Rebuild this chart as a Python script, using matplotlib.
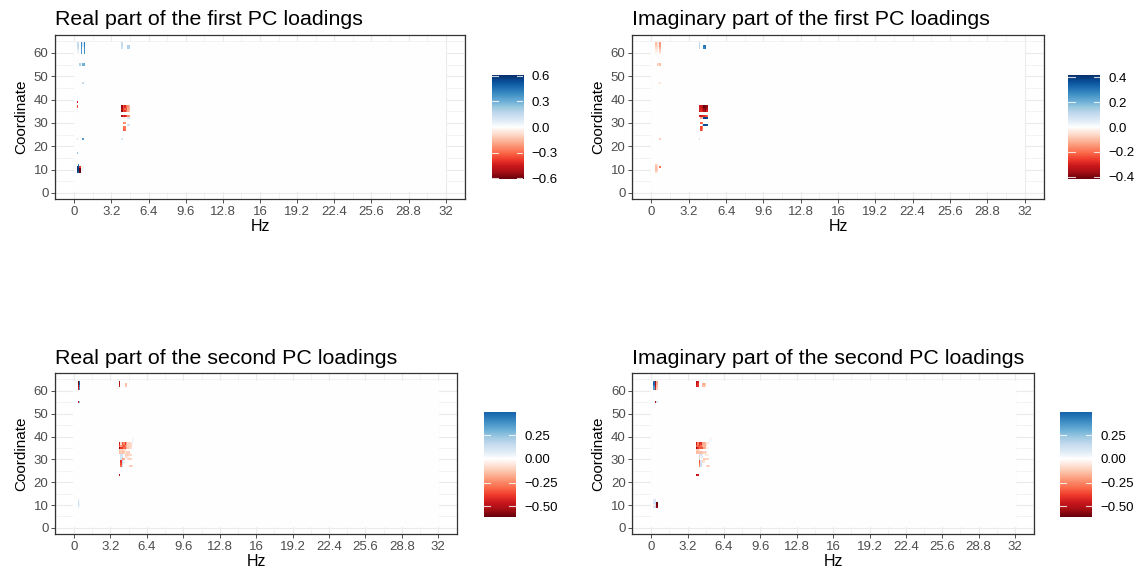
import numpy as np
import matplotlib
matplotlib.use('Agg')
import matplotlib.pyplot as plt
from matplotlib.colors import LinearSegmentedColormap, Normalize

plt.rcParams['font.family'] = ['Liberation Sans', 'DejaVu Sans']

# frequency bins (Hz) and coordinates of the loading matrix
hz = np.arange(0, 32.0001, 0.125)
coords = np.arange(1, 65)

# non-zero loadings, one entry per coordinate: (coordinate, Hz values, loadings)
re1_rows = [
    (64, [0.25, 0.375, 0.625, 0.75, 0.875, 4.125], [0.15, 0.15, 0.40, 0.08, 0.42, 0.15]),
    (63, [0.25, 0.375, 0.625, 0.75, 0.875, 4.125, 4.625, 4.75], [0.15, 0.18, 0.40, 0.08, 0.42, 0.15, 0.20, 0.20]),
    (62, [0.25, 0.375, 0.625, 0.875, 4.125, 4.625, 4.75], [0.12, 0.15, 0.38, 0.40, 0.12, 0.20, 0.18]),
    (61, [0.25, 0.375, 0.625, 0.875], [0.05, 0.06, 0.35, 0.38]),
    (60, [0.25, 0.375, 0.625, 0.875], [0.03, 0.05, 0.35, 0.38]),
    (55, [0.5, 0.75, 0.875], [0.20, 0.30, 0.30]),
    (47, [0.75], [0.15]),
    (39, [0.25], [-0.45]),
    (37, [0.25, 4.125, 4.25, 4.375, 4.5, 4.625, 4.75], [-0.35, -0.55, -0.35, -0.42, -0.30, -0.22, -0.15]),
    (36, [4.125, 4.25, 4.375, 4.5, 4.625, 4.75], [-0.50, -0.40, -0.30, -0.35, -0.18, -0.20]),
    (35, [4.125, 4.25, 4.375, 4.5, 4.625, 4.75], [-0.55, -0.35, -0.40, -0.28, -0.20, -0.12]),
    (33, [4.125, 4.25, 4.375, 4.5, 4.625, 4.75], [-0.50, -0.40, -0.45, -0.35, -0.25, -0.20]),
    (32, [4.25, 4.375, 4.625, 4.75], [-0.05, -0.04, 0.10, 0.12]),
    (30, [4.25, 4.375], [-0.25, -0.22]),
    (29, [4.625, 4.75], [0.12, 0.10]),
    (28, [4.25, 4.375], [-0.30, -0.28]),
    (27, [4.25, 4.375], [-0.32, -0.30]),
    (23, [0.25, 0.75, 4.125], [0.12, 0.35, 0.10]),
    (17, [0.25], [0.25]),
    (12, [0.375], [0.45]),
    (11, [0.25, 0.375, 0.5, 0.625, 0.75], [0.61, 0.55, -0.40, 0.03, -0.03]),
    (10, [0.25, 0.375, 0.5, 0.625, 0.75], [0.61, 0.58, -0.61, 0.03, 0.04]),
    (9, [0.25, 0.375, 0.5], [0.55, 0.50, -0.60]),
]

im1_rows = [
    (64, [0.375, 0.5, 0.625, 0.75, 4.125], [-0.10, -0.05, 0.04, -0.15, 0.12]),
    (63, [0.375, 0.5, 0.625, 0.75, 4.125, 4.5, 4.625], [-0.08, -0.06, 0.03, -0.15, 0.12, 0.30, 0.32]),
    (62, [0.375, 0.5, 0.625, 0.75, 4.125, 4.5, 4.625], [-0.06, -0.05, 0.02, -0.12, 0.10, 0.28, 0.30]),
    (61, [0.375, 0.5, 0.75], [-0.03, -0.04, -0.08]),
    (60, [0.375, 0.75], [-0.02, -0.05]),
    (55, [0.5, 0.625, 0.75], [-0.08, -0.05, -0.10]),
    (47, [0.625, 0.75], [-0.03, -0.04]),
    (37, [4.125, 4.25, 4.375, 4.5, 4.625, 4.75], [-0.30, -0.32, -0.35, -0.42, -0.40, -0.38]),
    (36, [4.125, 4.25, 4.375, 4.5, 4.625, 4.75], [-0.30, -0.30, -0.33, -0.38, -0.42, -0.35]),
    (35, [4.125, 4.25, 4.375, 4.5, 4.625, 4.75], [-0.32, -0.28, -0.30, -0.35, -0.38, -0.30]),
    (33, [4.125, 4.25, 4.375, 4.5, 4.625, 4.75], [-0.30, -0.32, -0.30, -0.28, -0.25, -0.22]),
    (32, [4.25, 4.375, 4.5, 4.625, 4.75], [-0.12, -0.10, 0.38, 0.42, 0.38]),
    (30, [4.25, 4.375], [-0.22, -0.20]),
    (29, [4.375, 4.5, 4.625, 4.75], [0.08, 0.38, 0.40, 0.36]),
    (28, [4.25, 4.375], [-0.25, -0.20]),
    (27, [4.25, 4.375], [-0.25, -0.15]),
    (23, [0.75, 4.125], [-0.08, 0.08]),
    (12, [0.375, 0.5], [-0.08, -0.05]),
    (11, [0.375, 0.5, 0.75], [-0.10, -0.06, -0.20]),
    (10, [0.375, 0.5], [-0.10, -0.08]),
    (9, [0.375, 0.5], [-0.06, -0.04]),
]

re2_rows = [
    (64, [0.375, 0.5, 4.0], [-0.61, 0.45, -0.50]),
    (63, [0.375, 0.5, 4.0, 4.5, 4.625], [-0.55, 0.50, -0.52, -0.15, -0.15]),
    (62, [0.375, 0.5, 4.0, 4.5, 4.625], [-0.50, 0.40, -0.45, -0.15, -0.12]),
    (61, [0.375, 0.5], [-0.45, 0.35]),
    (55, [0.375, 0.5], [-0.45, 0.25]),
    (39, [5.125, 5.25], [0.03, 0.03]),
    (38, [5.125, 5.25], [0.04, 0.02]),
    (37, [4.0, 4.125, 4.25, 4.375, 4.5, 4.625, 4.75, 4.875, 5.0, 5.125],
     [-0.45, -0.08, -0.35, -0.25, -0.38, -0.20, -0.10, -0.12, -0.08, 0.03]),
    (36, [4.0, 4.125, 4.25, 4.375, 4.5, 4.625, 4.75, 4.875, 5.0],
     [-0.35, -0.20, -0.30, -0.35, -0.25, -0.15, -0.12, -0.08, -0.10]),
    (35, [4.0, 4.125, 4.25, 4.375, 4.5, 4.625, 4.75, 4.875, 5.0],
     [-0.55, -0.40, -0.38, -0.30, -0.32, -0.20, -0.12, -0.10, -0.08]),
    (34, [4.0, 4.125, 4.25, 4.375, 4.5], [-0.12, -0.10, -0.12, -0.10, -0.08]),
    (33, [4.0, 4.125, 4.25, 4.375, 4.5, 4.625, 4.75, 4.875],
     [-0.15, -0.12, -0.15, -0.12, -0.05, -0.12, -0.10, -0.12]),
    (32, [4.125, 4.25, 4.5, 4.625, 4.75, 4.875, 5.0], [0.12, 0.10, -0.12, -0.10, -0.12, -0.08, -0.10]),
    (31, [4.125, 4.25, 4.5, 4.625, 4.75], [0.10, 0.15, -0.08, -0.10, -0.06]),
    (30, [4.125, 4.25, 4.375, 4.75, 4.875, 5.0], [0.12, -0.20, -0.18, -0.10, -0.12, -0.10]),
    (29, [4.125, 4.25, 4.375], [-0.40, 0.15, 0.05]),
    (28, [4.125, 4.25], [-0.35, 0.12]),
    (27, [4.125, 4.25, 4.875, 5.0, 5.125], [-0.30, 0.10, -0.10, -0.12, -0.08]),
    (23, [4.0], [-0.50]),
    (12, [0.375], [0.10]),
    (11, [0.375, 0.5], [0.12, 0.05]),
    (10, [0.375, 0.5], [0.10, 0.06]),
    (9, [0.375], [0.08]),
]

im2_rows = [
    (64, [0.25, 0.375, 0.5, 4.0, 4.125], [0.45, -0.55, -0.20, -0.50, -0.45]),
    (63, [0.25, 0.375, 0.5, 4.0, 4.125, 4.5, 4.625, 4.75], [0.50, -0.50, -0.18, -0.50, -0.40, -0.15, -0.18, -0.12]),
    (62, [0.25, 0.375, 0.5, 4.0, 4.125, 4.5, 4.625, 4.75], [0.40, -0.50, -0.15, -0.45, -0.40, -0.15, -0.15, -0.10]),
    (61, [0.25, 0.375, 0.5], [0.35, -0.45, -0.12]),
    (55, [0.375, 0.5], [-0.50, 0.10]),
    (39, [5.125, 5.25], [0.03, -0.03]),
    (38, [5.125, 5.25], [0.04, 0.03]),
    (37, [4.0, 4.125, 4.25, 4.375, 4.5, 4.625, 4.75, 4.875, 5.0, 5.125],
     [-0.45, -0.25, -0.42, -0.40, -0.20, -0.18, -0.15, -0.08, -0.05, 0.02]),
    (36, [4.0, 4.125, 4.25, 4.375, 4.5, 4.625, 4.75, 4.875],
     [-0.35, -0.30, -0.35, -0.30, -0.20, -0.15, -0.18, -0.06]),
    (35, [4.0, 4.125, 4.25, 4.375, 4.5, 4.625, 4.75, 4.875, 5.0],
     [-0.55, -0.40, -0.30, -0.35, -0.35, -0.20, -0.15, -0.05, -0.04]),
    (34, [4.0, 4.125, 4.25], [-0.12, -0.12, -0.08]),
    (33, [4.0, 4.125, 4.25, 4.375, 4.5, 4.625, 4.75, 4.875],
     [-0.15, -0.15, -0.12, -0.15, -0.12, -0.10, -0.12, -0.05]),
    (32, [4.25, 4.375, 4.5, 4.75, 4.875, 5.0], [0.12, 0.10, 0.05, -0.05, -0.06, -0.04]),
    (31, [4.25, 4.375, 4.5], [-0.10, 0.05, 0.10]),
    (30, [4.25, 4.625, 4.75, 4.875, 5.0], [0.15, -0.12, -0.10, -0.12, -0.10]),
    (29, [4.25, 4.375, 4.5, 4.625], [-0.35, 0.10, -0.10, -0.08]),
    (28, [4.25, 4.375], [-0.30, 0.15]),
    (27, [4.25, 4.375, 4.875, 5.0, 5.125], [-0.25, 0.12, -0.10, -0.12, -0.08]),
    (23, [4.0, 4.125], [-0.50, -0.45]),
    (12, [0.25, 0.375], [0.08, 0.12]),
    (11, [0.25, 0.375, 0.5], [0.10, 0.15, -0.61]),
    (10, [0.25, 0.375, 0.5], [-0.05, 0.12, -0.60]),
    (9, [0.25, 0.375, 0.5], [0.10, 0.15, -0.55]),
]

titles = ['Real part of the first PC loadings', 'Imaginary part of the first PC loadings',
          'Real part of the second PC loadings', 'Imaginary part of the second PC loadings']
hz_ticks = [0, 3.2, 6.4, 9.6, 12.8, 16, 19.2, 22.4, 25.6, 28.8, 32]
coord_ticks = [0, 10, 20, 30, 40, 50, 60]
bar_ticks = [[-0.6, -0.3, 0, 0.3, 0.6], [-0.4, -0.2, 0, 0.2, 0.4],
             [-0.5, -0.25, 0, 0.25], [-0.5, -0.25, 0, 0.25]]
bar_fmt = ['{:.1f}', '{:.1f}', '{:.2f}', '{:.2f}']

# Reds -> white -> Blues diverging scale
scale_cols = ['#67000D', '#A50F15', '#CB181D', '#EF3B2C', '#FB6A4A', '#FC9272', '#FCBBA1', '#FEE0D2',
              '#FFFFFF',
              '#DEEBF7', '#C6DBEF', '#9ECAE1', '#6BAED6', '#4292C6', '#2171B5', '#08519C', '#08306B']
cmap = LinearSegmentedColormap.from_list('reds_blues', scale_cols)

W, H = 1140, 569
panel_px = [(55, 35, 465, 199.3), (632, 35, 1044, 199.3),
            (55, 373.3, 457.3, 534), (632.3, 373.3, 1034, 534)]
bar_px = [(491.7, 75, 523.3, 179), (1068.3, 75, 1100, 179),
          (484, 411.7, 515.7, 516.7), (1060, 411.7, 1092, 516.7)]


def rect(l, t, r, b):
    return [l / W, 1 - b / H, (r - l) / W, (b - t) / H]


def to_grid(rows):
    z = np.zeros((len(coords), len(hz)))
    for c, hs, vs in rows:
        for h, v in zip(hs, vs):
            z[c - 1, int(round(h / 0.125))] = v
    return z


fig = plt.figure(figsize=(W / 100, H / 100), dpi=100)
grid_col = '#EBEBEB'
hz_edges = np.append(hz - 0.0625, hz[-1] + 0.0625)
coord_edges = np.append(coords - 0.5, coords[-1] + 0.5)

for i, rows in enumerate([re1_rows, im1_rows, re2_rows, im2_rows]):
    z = to_grid(rows)
    vmin, vmax = z.min(), z.max()
    lim = max(abs(vmin), abs(vmax))
    norm = Normalize(-lim, lim)

    ax = fig.add_axes(rect(*panel_px[i]))
    ax.pcolormesh(hz_edges, coord_edges, z, cmap=cmap, norm=norm,
                  shading='flat', antialiased=False, zorder=2)
    xr = hz_edges[-1] - hz_edges[0]
    yr = coord_edges[-1] - coord_edges[0]
    ax.set_xlim(hz_edges[0] - 0.05 * xr, hz_edges[-1] + 0.05 * xr)
    ax.set_ylim(coord_edges[0] - 0.05 * yr, coord_edges[-1] + 0.05 * yr)
    ax.set_xticks(hz_ticks, ['%g' % t for t in hz_ticks])
    ax.set_yticks(coord_ticks)
    ax.set_xticks(np.arange(-1.6, 34, 3.2), minor=True)
    ax.set_yticks(np.arange(5, 70, 10), minor=True)
    ax.set_axisbelow(True)
    ax.grid(True, which='major', color=grid_col, lw=0.8)
    ax.grid(True, which='minor', color=grid_col, lw=0.4)
    ax.tick_params(which='major', length=2.75, width=0.6, color='#333333',
                   labelcolor='#4D4D4D', labelsize=9.5, pad=2)
    ax.tick_params(which='minor', length=0)
    for s in ax.spines.values():
        s.set_color('#333333')
        s.set_linewidth(0.9)
        s.set_zorder(5)
    ax.set_xlabel('Hz', fontsize=11.5, labelpad=1)
    ax.set_ylabel('Coordinate', fontsize=11, labelpad=4)
    ax.set_title(titles[i], loc='left', fontsize=15.4, pad=7)

    # legend bar
    cax = fig.add_axes(rect(*bar_px[i]))
    levels = np.linspace(vmin, vmax, 300)
    cax.imshow(levels[:, None], aspect='auto', origin='lower', cmap=cmap, norm=norm,
               extent=(0, 1, vmin, vmax), interpolation='bilinear')
    cax.set_xlim(0, 1)
    cax.set_ylim(vmin, vmax)
    for t in bar_ticks[i]:
        cax.plot([0, 0.2], [t, t], color='white', lw=0.8, alpha=0.8)
        cax.plot([0.8, 1], [t, t], color='white', lw=0.8, alpha=0.8)
    cax.set_xticks([])
    cax.yaxis.tick_right()
    cax.set_yticks(bar_ticks[i], [bar_fmt[i].format(t).replace('-', '\u2212') for t in bar_ticks[i]])
    cax.tick_params(length=0, labelsize=9.5, pad=6, labelcolor='black')
    for s in cax.spines.values():
        s.set_visible(False)

fig.savefig('out.png', dpi=100)
